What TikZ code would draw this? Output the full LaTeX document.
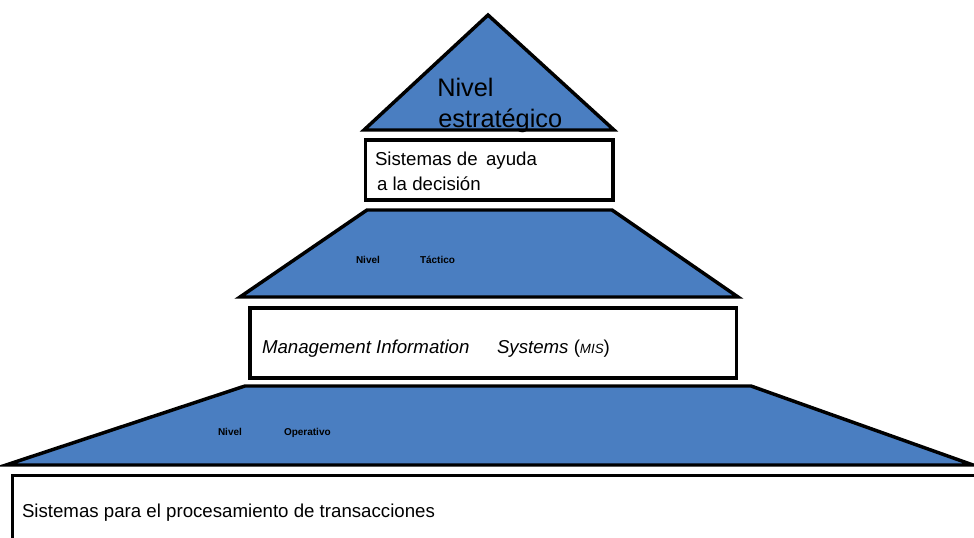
\documentclass[tikz,border=0pt]{standalone}
\usepackage{fontspec}
\setmainfont{Liberation Sans}
\definecolor{lvlblue}{RGB}{74,126,193}
\begin{document}
\begin{tikzpicture}[x=0.75pt,y=-0.75pt,
  level/.style={fill=lvlblue,draw=black,line width=2.6pt,line join=miter},
  sysbox/.style={fill=white,draw=black,line width=2.6pt},
  txt/.style={anchor=base west,inner sep=0pt,outer sep=0pt,font=\fontsize{14}{16}\selectfont},
  tiny/.style={anchor=base west,inner sep=0pt,outer sep=0pt,font=\fontsize{7.5}{8}\bfseries}]
\useasboundingbox (0,0) rectangle (974,538);
% bottom box (extends beyond the page)
\draw[sysbox] (12.5,475.5) rectangle (990,560);
% level 3 trapezoid
\draw[level] (6,465) -- (245,386) -- (751,386) -- (973,465) -- cycle;
% MIS box
\draw[sysbox] (250,308) rectangle (736.5,378);
% level 2 trapezoid
\draw[level] (240,297) -- (367,210) -- (612,210) -- (738,297) -- cycle;
% DSS box
\draw[sysbox] (365.5,140) rectangle (613,200);
% top triangle
\draw[level] (364,130) -- (488,15) -- (614,130) -- cycle;
% texts
\node[anchor=base west,inner sep=0pt,font=\fontsize{19}{22}\selectfont] (n1a) at (437,97) {Nivel};
\node[anchor=base west,inner sep=0pt,font=\fontsize{19}{22}\selectfont] (n1b) at (438,128) {estratégico};
\node[txt] (s1a) at (375,166) {Sistemas de\hspace{0.45em}ayuda};
\node[txt] (s1b) at (377,191) {a la decisión};
\node[tiny] (n2a) at (356,264) {Nivel};
\node[tiny] (n2b) at (420,264) {Táctico};
\node[txt] (s2) at (262,353) {\itshape Management Information};
\node[txt] (s2b) at (497,353) {\textit{Systems} (\textit{\fontsize{10}{12}\selectfont MIS})};
\node[tiny] (n3a) at (218,435) {Nivel};
\node[tiny] (n3b) at (284,435) {Operativo};
\node[txt] (s3) at (22,517) {Sistemas para el procesamiento de transacciones};
\end{tikzpicture}
\end{document}
